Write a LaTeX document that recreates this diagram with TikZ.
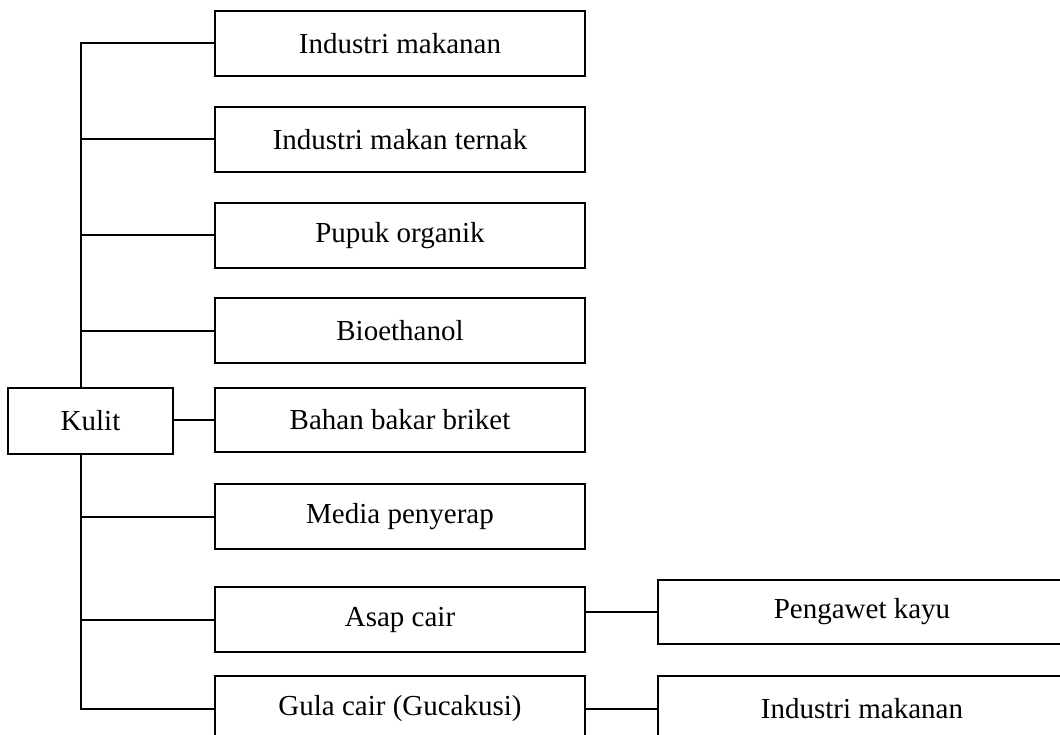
\documentclass[tikz,border=0pt]{standalone}
\usepackage{fontspec}
\setmainfont{Liberation Serif}
\begin{document}
\begin{tikzpicture}[x=1pt,y=-1pt,
  line width=2pt,
  box/.style={draw, fill=white, rectangle, inner sep=0pt,
    minimum width=370pt, minimum height=65pt,
    font=\fontsize{29}{34}\selectfont},
  rootbox/.style={box, minimum width=165pt, minimum height=66pt},
  sidebox/.style={box, minimum width=408pt, minimum height=65pt},
  link/.style={draw, line width=2pt}]
  \clip (0,0) rectangle (1060,735);
  \fill[white] (0,0) rectangle (1060,735);

  % vertical trunk position
  \coordinate (trunk) at (81,0);

  % uses of the skin
  \node[box] (b1) at (400,43.5)  {Industri makanan};
  \node[box] (b2) at (400,139.5) {Industri makan ternak};
  \node[box] (b3) at (400,235.5) {Pupuk organik};
  \node[box] (b4) at (400,330.5) {Bioethanol};
  \node[box, minimum height=64pt] (b5) at (400,420) {Bahan bakar briket};
  \node[box] (b6) at (400,516.5) {Media penyerap};
  \node[box] (b7) at (400,619.5) {Asap cair};
  \node[box] (b8) at (400,708.5) {Gula cair (Gucakusi)};

  % root
  \node[rootbox] (kulit) at (90.5,421) {Kulit};

  % second-level products
  \node[sidebox, minimum height=64pt] (peng) at (862,612) {Pengawet kayu};
  \node[sidebox] (im2) at (862,708.5) {Industri makanan};

  % trunk with its top and bottom branches
  \draw[link] (b1.west) -| (trunk |- kulit.north);
  \draw[link] (trunk |- kulit.south) |- (b8.west);
  % middle branches
  \foreach \b in {b2,b3,b4,b6,b7}
    \draw[link] (trunk |- \b.west) -- (\b.west);
  \draw[link] (kulit.east |- b5.west) -- (b5.west);
  \draw[link] (peng.west -| b7.east) -- (peng.west);
  \draw[link] (b8.east) -- (im2.west);
\end{tikzpicture}
\end{document}
